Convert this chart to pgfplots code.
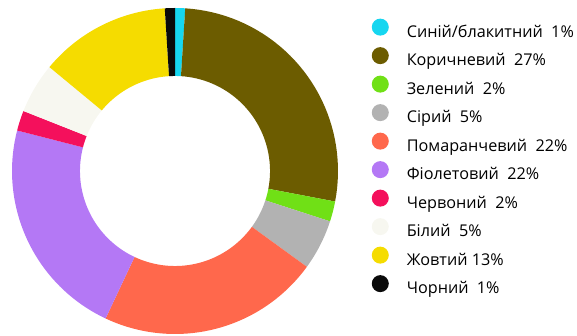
\documentclass[border=0pt]{standalone}
\usepackage{fontspec}
\setmainfont{Open Sans}
\usepackage{pgfplots}
\pgfplotsset{compat=1.18}
\definecolor{cCyan}{RGB}{22,214,240}
\definecolor{cBrown}{RGB}{108,92,0}
\definecolor{cGreen}{RGB}{112,224,22}
\definecolor{cGrey}{RGB}{178,178,178}
\definecolor{cOrange}{RGB}{255,104,76}
\definecolor{cPurple}{RGB}{180,120,245}
\definecolor{cRed}{RGB}{244,16,92}
\definecolor{cWhite}{RGB}{247,247,240}
\definecolor{cYellow}{RGB}{245,220,0}
\definecolor{cBlack}{RGB}{10,10,10}
% #1 colour, #2 start %, #3 end %, #4 legend text
\newcommand{\seg}[4]{%
  \addplot[fill=#1, draw=none, variable=\t, samples at={0,1,...,81}]
   ({(\t<40.5?1:0.583)*cos(90-3.6*(\t<40.5?(#2+(#3-#2)*\t/40):(#3-(#3-#2)*(\t-41)/40)))},
    {(\t<40.5?1:0.583)*sin(90-3.6*(\t<40.5?(#2+(#3-#2)*\t/40):(#3-(#3-#2)*(\t-41)/40)))});
  \addlegendentry{#4}}
\begin{document}
\begin{tikzpicture}
\useasboundingbox (0,0) rectangle (577bp,336bp);
\begin{axis}[
  at={(175bp,165bp)}, anchor=center,
  width=326bp, height=326bp, scale only axis,
  xmin=-1, xmax=1, ymin=-1, ymax=1,
  hide axis, clip=false,
  legend image code/.code={\fill[#1] (8.5bp,5.5bp) circle[radius=8.5bp]; \path (35bp,5.5bp);},
  legend style={
    at={(axis description cs:1.103,0.968)}, anchor=north west,
    draw=none, fill=none, inner sep=0pt,
    font=\fontsize{16.2bp}{19bp}\selectfont,
    nodes={inner sep=0pt, text height=12bp, text depth=3bp},
    row sep=7.0bp,
  },
  legend cell align=left,
]
\seg{cCyan}{0}{1}{Синій/блакитний~ 1\%}
\seg{cBrown}{1}{28}{Коричневий~ 27\%}
\seg{cGreen}{28}{30}{Зелений~ 2\%}
\seg{cGrey}{30}{35}{Сірий~ 5\%}
\seg{cOrange}{35}{57}{Помаранчевий~ 22\%}
\seg{cPurple}{57}{79}{Фіолетовий~ 22\%}
\seg{cRed}{79}{81}{Червоний~ 2\%}
\seg{cWhite}{81}{86}{Білий~ 5\%}
\seg{cYellow}{86}{99}{Жовтий 13\%}
\seg{cBlack}{99}{100}{Чорний~ 1\%}
\end{axis}
\end{tikzpicture}
\end{document}
